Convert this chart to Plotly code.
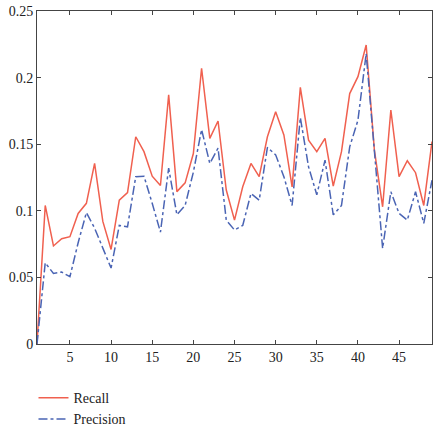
import plotly.graph_objects as go

x = list(range(1, 50))
recall = [0.0, 0.104, 0.0736, 0.079, 0.0806, 0.098, 0.1056, 0.1356, 0.092, 0.071,
          0.108, 0.1136, 0.1556, 0.1444, 0.126, 0.119, 0.187, 0.1144, 0.121, 0.143,
          0.207, 0.1544, 0.1674, 0.1156, 0.093, 0.118, 0.1356, 0.1256, 0.1556, 0.1744,
          0.157, 0.118, 0.1927, 0.153, 0.1444, 0.1544, 0.1186, 0.1444, 0.188, 0.2007,
          0.2245, 0.1456, 0.103, 0.1757, 0.1256, 0.1376, 0.1286, 0.104, 0.152]
precision = [0.0, 0.061, 0.053, 0.054, 0.0505, 0.076, 0.0986, 0.087, 0.072, 0.057,
             0.089, 0.088, 0.1256, 0.126, 0.1056, 0.084, 0.132, 0.097, 0.104, 0.129,
             0.161, 0.1356, 0.147, 0.093, 0.0856, 0.089, 0.113, 0.108, 0.1476, 0.142,
             0.1256, 0.104, 0.170, 0.133, 0.112, 0.138, 0.097, 0.104, 0.148, 0.168,
             0.218, 0.143, 0.0718, 0.1143, 0.098, 0.093, 0.1143, 0.0906, 0.123]
xticks = [5, 10, 15, 20, 25, 30, 35, 40, 45]
yticks = [0, 0.05, 0.1, 0.15, 0.2, 0.25]
yticklabels = ["0", "0.05", "0.1", "0.15", "0.2", "0.25"]

font = "Liberation Serif"
fig = go.Figure()
fig.add_trace(go.Scatter(x=x, y=recall, mode="lines", name="Recall",
                         line=dict(color="#f0604f", width=1.5)))
fig.add_trace(go.Scatter(x=x, y=precision, mode="lines", name="Precision",
                         line=dict(color="#4a64b4", width=1.5, dash="dashdot")))

axis_common = dict(showgrid=False, zeroline=False, showline=True, linecolor="#444",
                   linewidth=1, ticks="inside", ticklen=4, tickcolor="#444",
                   mirror="ticks", tickfont=dict(family=font, size=14, color="#222"))
fig.update_xaxes(range=[1, 49], tickvals=xticks, automargin=False, **axis_common)
fig.update_yaxes(range=[0, 0.25], tickvals=yticks, ticktext=yticklabels,
                 automargin=False, **axis_common)

fig.update_layout(
    width=435, height=426,
    margin=dict(l=37, r=3, t=11, b=82, autoexpand=False),
    plot_bgcolor="white", paper_bgcolor="white",
    font=dict(family=font, size=14, color="#222"),
    showlegend=True,
    legend=dict(xref="container", yref="container", x=0.077, y=0.103,
                xanchor="left", yanchor="top", orientation="v",
                font=dict(family=font, size=14, color="#222"),
                tracegroupgap=0, itemwidth=30, bgcolor="rgba(0,0,0,0)"),
)
fig.write_html("out.html")
